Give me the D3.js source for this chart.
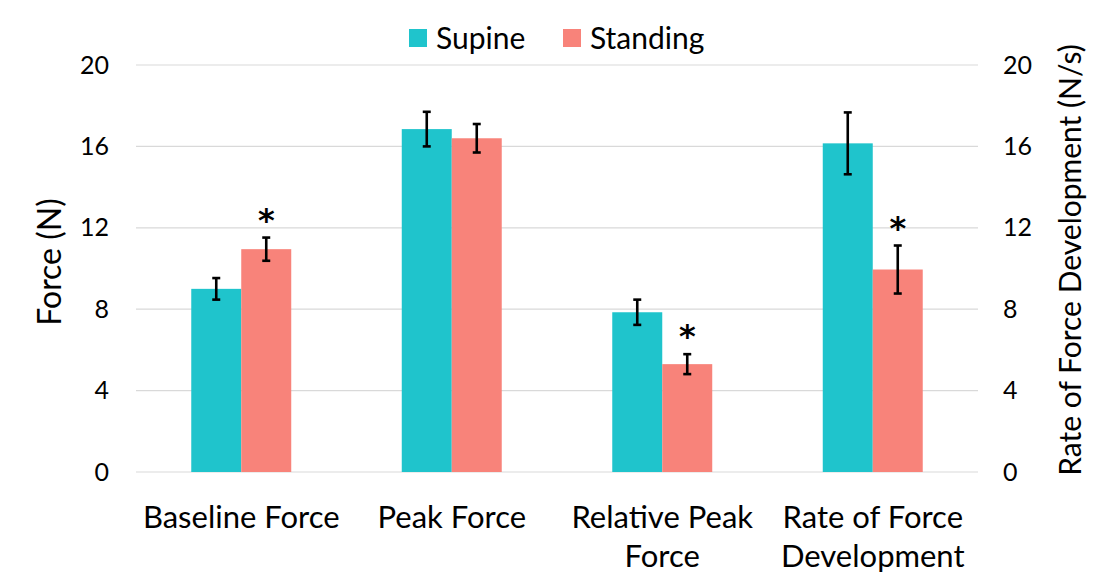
<!DOCTYPE html>
<html>
<head>
<meta charset="utf-8">
<script src="https://cdn.jsdelivr.net/npm/d3@7"></script>
<style>
  body { margin: 0; background: #fff; }
  svg text { font-family: Lato, "Open Sans", sans-serif; fill: #000; }
</style>
</head>
<body>
<svg id="chart" width="1118" height="573"></svg>
<script>
// data
const categories = [["Baseline Force"], ["Peak Force"], ["Relative Peak", "Force"], ["Rate of Force", "Development"]];
const seriesNames = ["Supine", "Standing"];
const supineMean = [9.0, 16.85, 7.85, 16.15];
const supineErr = [0.53, 0.85, 0.62, 1.52];
const standingMean = [10.95, 16.4, 5.3, 9.95];
const standingErr = [0.57, 0.7, 0.49, 1.18];
const significant = [true, false, true, true]; // asterisk over Standing
const yTicks = [0, 4, 8, 12, 16, 20];

const colors = { Supine: "#1fc4cc", Standing: "#f8837a" };

const width = 1118, height = 573;
const padding = { top: 65, bottom: 101, left: 136, right: 140 };

const svg = d3.select("#chart");

const xScale = d3.scaleBand()
  .domain(categories.map((d, i) => i))
  .range([padding.left, width - padding.right])
  .paddingInner(0.525)
  .paddingOuter(0.2625);

const xInner = d3.scaleBand()
  .domain(seriesNames)
  .range([0, xScale.bandwidth()]);

const yScale = d3.scaleLinear()
  .domain([0, 20])
  .range([height - padding.bottom, padding.top]);

// gridlines
svg.append("g")
  .selectAll("line")
  .data(yTicks)
  .join("line")
  .attr("x1", padding.left)
  .attr("x2", width - padding.right)
  .attr("y1", d => yScale(d))
  .attr("y2", d => yScale(d))
  .attr("stroke", "#d9d9d9")
  .attr("stroke-width", 1.2);

// left axis
const leftAxis = svg.append("g")
  .attr("transform", `translate(${padding.left}, 0)`)
  .call(d3.axisLeft(yScale).tickValues(yTicks).tickSize(0).tickPadding(27));
leftAxis.select(".domain").remove();
leftAxis.selectAll("text").style("font-size", "25px").attr("font-family", null);

// right axis (same 0-20 range)
const rightAxis = svg.append("g")
  .attr("transform", `translate(${width - padding.right}, 0)`)
  .call(d3.axisRight(yScale).tickValues(yTicks).tickSize(0).tickPadding(25));
rightAxis.select(".domain").remove();
rightAxis.selectAll("text").style("font-size", "25px").attr("font-family", null);

// bars
const rows = categories.map((c, i) => [
  { cat: i, key: "Supine", value: supineMean[i], err: supineErr[i] },
  { cat: i, key: "Standing", value: standingMean[i], err: standingErr[i] }
]).flat();

svg.append("g")
  .selectAll("rect")
  .data(rows)
  .join("rect")
  .attr("x", d => xScale(d.cat) + xInner(d.key))
  .attr("width", xInner.bandwidth())
  .attr("y", d => yScale(d.value))
  .attr("height", d => yScale(0) - yScale(d.value))
  .attr("fill", d => colors[d.key]);

// error bars
const errG = svg.append("g").attr("stroke", "#000").attr("stroke-width", 2.6);
const cx = d => xScale(d.cat) + xInner(d.key) + xInner.bandwidth() / 2;
errG.selectAll(".stem")
  .data(rows)
  .join("line")
  .attr("x1", cx).attr("x2", cx)
  .attr("y1", d => yScale(d.value + d.err))
  .attr("y2", d => yScale(d.value - d.err));
errG.selectAll(".capTop")
  .data(rows)
  .join("line")
  .attr("x1", d => cx(d) - 4).attr("x2", d => cx(d) + 4)
  .attr("y1", d => yScale(d.value + d.err))
  .attr("y2", d => yScale(d.value + d.err));
errG.selectAll(".capBottom")
  .data(rows)
  .join("line")
  .attr("x1", d => cx(d) - 4).attr("x2", d => cx(d) + 4)
  .attr("y1", d => yScale(d.value - d.err))
  .attr("y2", d => yScale(d.value - d.err));

// significance asterisks
svg.append("g")
  .selectAll("text")
  .data(rows.filter(d => d.key === "Standing" && significant[d.cat]))
  .join("text")
  .attr("x", cx)
  .attr("y", d => yScale(d.value + d.err) - 7)
  .attr("text-anchor", "middle")
  .style("font-family", "'DejaVu Sans', sans-serif")
  .style("font-size", "32px")
  .style("font-weight", "bold")
  .text("*");

// category labels
const catLabels = svg.append("g")
  .selectAll("text")
  .data(categories)
  .join("text")
  .attr("x", (d, i) => xScale(i) + xScale.bandwidth() / 2)
  .attr("y", 528)
  .attr("text-anchor", "middle")
  .style("font-size", "31px");
catLabels.selectAll("tspan")
  .data(d => d)
  .join("tspan")
  .attr("x", function() { return this.parentNode.getAttribute("x"); })
  .attr("dy", (d, i) => i === 0 ? 0 : 39)
  .text(d => d);

// y-axis titles
svg.append("text")
  .attr("transform", `translate(61, 262) rotate(-90)`)
  .attr("text-anchor", "middle")
  .style("font-size", "32px")
  .text("Force (N)");

svg.append("text")
  .attr("transform", `translate(1081, 260) rotate(-90)`)
  .attr("text-anchor", "middle")
  .style("font-size", "30px")
  .text("Rate of Force Development (N/s)");

// legend
const legendX = [409, 563];
const legend = svg.append("g")
  .selectAll("g")
  .data(seriesNames)
  .join("g")
  .attr("transform", (d, i) => `translate(${legendX[i]}, 29)`);
legend.append("rect")
  .attr("width", 18).attr("height", 18)
  .attr("fill", d => colors[d]);
legend.append("text")
  .attr("x", 27)
  .attr("y", 20)
  .style("font-size", "30px")
  .text(d => d);
</script>
</body>
</html>
